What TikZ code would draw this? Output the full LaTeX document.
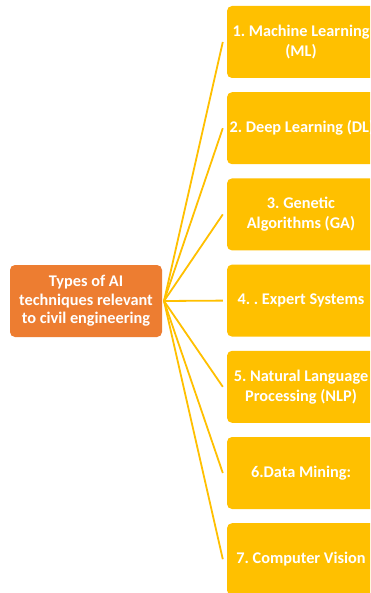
\documentclass[tikz,border=0pt]{standalone}
\usepackage{fontspec}
\setmainfont{Carlito}
\frenchspacing
\definecolor{rootorange}{HTML}{ED7D31}
\definecolor{leafgold}{HTML}{FFC000}
\begin{document}
\begin{tikzpicture}[x=1pt,y=-1pt,
  rootbox/.style={fill=rootorange, rounded corners=5pt, minimum width=152pt, minimum height=72pt,
    inner xsep=0pt, align=center, text=white, font=\bfseries\fontsize{16.3}{18.5}\selectfont},
  leafbox/.style={fill=leafgold, rounded corners=5pt, minimum width=148pt, minimum height=72pt,
    inner xsep=0pt, align=center, text=white, font=\bfseries\fontsize{16.3}{20}\selectfont},
  link/.style={draw=leafgold, line width=1.8pt}]
\useasboundingbox (0,0) rectangle (370,593);
\clip (0,0) rectangle (370,593);
\fill[white] (0,0) rectangle (370,593);

% central topic
\node[rootbox] (root) at (86,301) {Types of AI\\techniques relevant\\to civil engineering};
\coordinate (hub) at (164,301);

% technique boxes
\node[leafbox] (b1) at (301,42)    {1. Machine Learning\\(ML)};
\node[leafbox] (b2) at (301,128.2) {\makebox[143pt][l]{2. Deep Learning (DL)}};
\node[leafbox] (b3) at (301,214.4) {3. Genetic\\Algorithms (GA)};
\node[leafbox] (b4) at (301,300.6) {4. . Expert Systems};
\node[leafbox] (b5) at (301,386.8) {5. Natural Language\\Processing (NLP)};
\node[leafbox] (b6) at (301,473)   {6.Data Mining:};
\node[leafbox] (b7) at (301,559.2) {7. Computer Vision};

% connectors from the hub
\foreach \b in {b1,b2,b3,b4,b5,b6,b7}
  \draw[link] (hub) -- ([xshift=-4pt]\b.west);
\end{tikzpicture}
\end{document}
